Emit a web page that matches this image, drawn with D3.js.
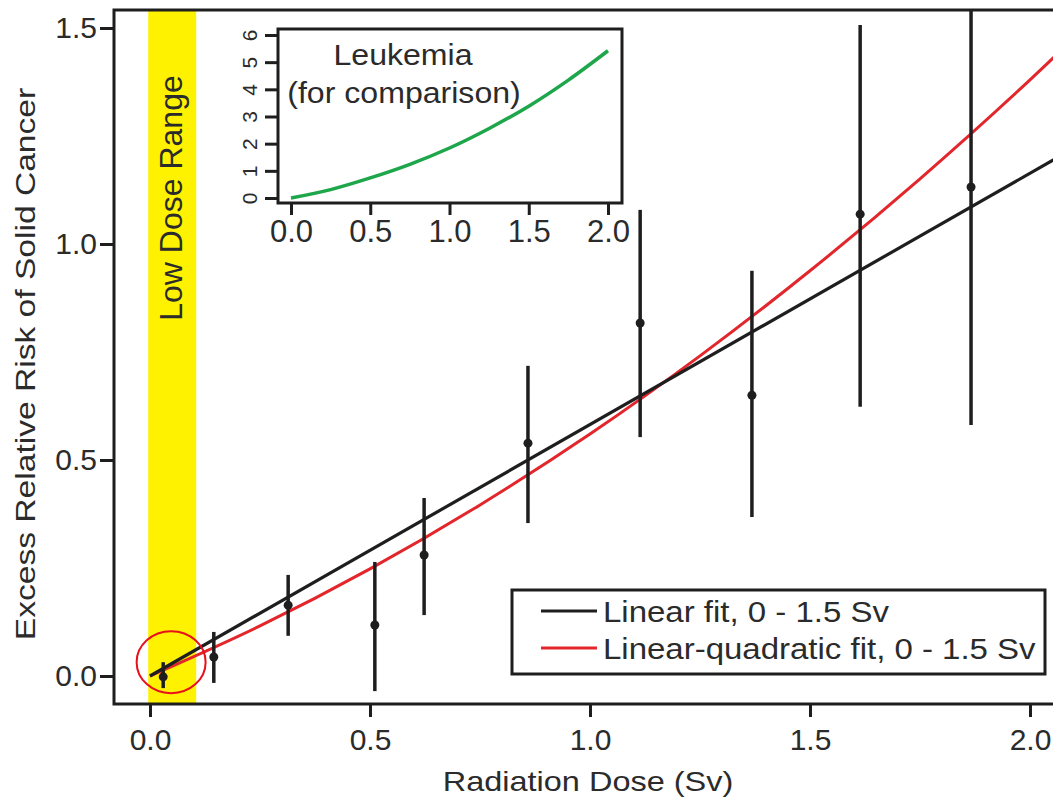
<!DOCTYPE html>
<html>
<head>
<meta charset="utf-8">
<script src="https://cdn.jsdelivr.net/npm/d3@7"></script>
<style>
  body { margin: 0; background: #fff; }
  text { font-family: "Liberation Sans", Arial, sans-serif; fill: #2b2b2b; }
</style>
</head>
<body>
<div id="chart"></div>
<script>
// main chart data: dose bins with excess relative risk and error bars
var doseSv = [0.03, 0.145, 0.314, 0.511, 0.623, 0.859, 1.114, 1.368, 1.614, 1.866];
var errValue = [-0.002, 0.044, 0.164, 0.118, 0.280, 0.539, 0.817, 0.650, 1.069, 1.132];
var errLow = [-0.028, -0.016, 0.093, -0.035, 0.141, 0.354, 0.553, 0.368, 0.623, 0.581];
var errHigh = [0.032, 0.102, 0.234, 0.264, 0.412, 0.718, 1.079, 0.938, 1.507, 1.60];

// fitted curves
var linearFitX = [0, 2.1];
var linearFitY = [0, 1.222];
var lqFitX = [0, 0.25, 0.5, 0.75, 1.0, 1.25, 1.5, 1.75, 2.0, 2.1];
var lqFitY = [0, 0.116, 0.248, 0.396, 0.56, 0.741, 0.938, 1.151, 1.38, 1.476];

// inset: leukemia curve
var leukX = [0, 0.25, 0.5, 0.75, 1.0, 1.25, 1.5, 1.75, 2.0];
var leukY = [0, 0.31, 0.74, 1.24, 1.84, 2.56, 3.38, 4.34, 5.42];

var lowDoseRange = [-0.004, 0.105];
var xTicks = [0, 0.5, 1.0, 1.5, 2.0];
var yTicks = [0, 0.5, 1.0, 1.5];
var insetXTicks = [0, 0.5, 1.0, 1.5, 2.0];
var insetYTicks = [0, 1, 2, 3, 4, 5, 6];
var legendLabels = ["Linear fit, 0 - 1.5 Sv", "Linear-quadratic fit, 0 - 1.5 Sv"];
var highlight = [0.048, 0.032];

var W = 1053, H = 799;
var frame = {left: 114, top: 10, right: 1062, bottom: 704};
var ink = "#1e1e1e";

var x = d3.scaleLinear().domain([0, 2]).range([150, 1030]);
var y = d3.scaleLinear().domain([0, 1.5]).range([676, 28]);

var svg = d3.select("#chart").append("svg")
    .attr("width", W)
    .attr("height", H);

svg.append("clipPath").attr("id", "plotclip")
  .append("rect")
    .attr("x", frame.left).attr("y", frame.top)
    .attr("width", frame.right - frame.left)
    .attr("height", frame.bottom - frame.top);

var plot = svg.append("g").attr("clip-path", "url(#plotclip)");

// yellow low dose band
plot.append("rect")
    .attr("x", x(lowDoseRange[0]))
    .attr("y", frame.top)
    .attr("width", x(lowDoseRange[1]) - x(lowDoseRange[0]))
    .attr("height", frame.bottom - frame.top)
    .attr("fill", "#fff200");

svg.append("text")
    .attr("transform", "translate(182," + 198 + ") rotate(-90)")
    .attr("text-anchor", "middle")
    .style("font-size", "32px")
    .text("Low Dose Range");

// fit lines
var line = d3.line()
    .x(function (d) { return x(d[0]); })
    .y(function (d) { return y(d[1]); });

plot.append("path")
    .datum(d3.zip(lqFitX, lqFitY))
    .attr("d", line.curve(d3.curveMonotoneX))
    .attr("fill", "none")
    .attr("stroke", "#e3262b")
    .attr("stroke-width", 3);

plot.append("path")
    .datum(d3.zip(linearFitX, linearFitY))
    .attr("d", line.curve(d3.curveLinear))
    .attr("fill", "none")
    .attr("stroke", ink)
    .attr("stroke-width", 3.2);

// error bars and points
var pts = doseSv.map(function (d, i) {
    return {x: d, v: errValue[i], lo: errLow[i], hi: errHigh[i]};
});

plot.selectAll(".bar")
    .data(pts)
    .enter().append("line")
    .attr("class", "bar")
    .attr("x1", function (d) { return x(d.x); })
    .attr("x2", function (d) { return x(d.x); })
    .attr("y1", function (d) { return y(d.lo); })
    .attr("y2", function (d) { return y(d.hi); })
    .attr("stroke", ink)
    .attr("stroke-width", 3.5);

plot.selectAll(".dot")
    .data(pts)
    .enter().append("circle")
    .attr("class", "dot")
    .attr("cx", function (d) { return x(d.x); })
    .attr("cy", function (d) { return y(d.v); })
    .attr("r", 4.5)
    .attr("fill", ink);

// red highlight ring
svg.append("ellipse")
    .attr("cx", x(highlight[0]))
    .attr("cy", y(highlight[1]))
    .attr("rx", 34.5)
    .attr("ry", 31)
    .attr("fill", "none")
    .attr("stroke", "#e8101a")
    .attr("stroke-width", 2);

// frame
svg.append("rect")
    .attr("x", frame.left).attr("y", frame.top)
    .attr("width", frame.right - frame.left)
    .attr("height", frame.bottom - frame.top)
    .attr("fill", "none")
    .attr("stroke", ink)
    .attr("stroke-width", 3);

// axes
var gx = svg.append("g")
    .attr("transform", "translate(0," + frame.bottom + ")")
    .call(d3.axisBottom(x).tickValues(xTicks).tickSize(13).tickPadding(12)
        .tickFormat(d3.format(".1f")));
var gy = svg.append("g")
    .attr("transform", "translate(" + frame.left + ",0)")
    .call(d3.axisLeft(y).tickValues(yTicks).tickSize(14).tickPadding(3)
        .tickFormat(d3.format(".1f")));
[gx, gy].forEach(function (g) {
    g.select(".domain").remove();
    g.selectAll("line").attr("stroke", ink).attr("stroke-width", 3);
    g.selectAll("text").style("font-size", "30px").attr("fill", "#2b2b2b");
});

svg.append("text")
    .attr("transform", "translate(588,791) scale(1.16,1)")
    .attr("text-anchor", "middle")
    .style("font-size", "28px")
    .text("Radiation Dose (Sv)");

svg.append("text")
    .attr("transform", "translate(35,364) rotate(-90) scale(1.2,1)")
    .attr("text-anchor", "middle")
    .style("font-size", "28px")
    .text("Excess Relative Risk of Solid Cancer");

// legend
var lg = svg.append("g");
lg.append("rect")
    .attr("x", 512).attr("y", 590)
    .attr("width", 533).attr("height", 84)
    .attr("fill", "#fff")
    .attr("stroke", ink)
    .attr("stroke-width", 3);
var legendColors = [ink, "#e3262b"];
legendLabels.forEach(function (t, i) {
    var yy = 611 + i * 37;
    lg.append("line")
        .attr("x1", 541).attr("x2", 597)
        .attr("y1", yy).attr("y2", yy)
        .attr("stroke", legendColors[i])
        .attr("stroke-width", 3);
    lg.append("text")
        .attr("transform", "translate(603," + (yy + 11) + ") scale(1.1,1)")
        .style("font-size", "30px")
        .text(t);
});

// inset
var inset = {left: 278, top: 29, right: 622, bottom: 203};
var ix = d3.scaleLinear().domain([0, 2]).range([291, 608]);
var iy = d3.scaleLinear().domain([0, 6]).range([198, 35]);

svg.append("rect")
    .attr("x", inset.left).attr("y", inset.top)
    .attr("width", inset.right - inset.left)
    .attr("height", inset.bottom - inset.top)
    .attr("fill", "#fff")
    .attr("stroke", ink)
    .attr("stroke-width", 3);

svg.append("path")
    .datum(d3.zip(leukX, leukY))
    .attr("d", d3.line()
        .x(function (d) { return ix(d[0]); })
        .y(function (d) { return iy(d[1]); })
        .curve(d3.curveMonotoneX))
    .attr("fill", "none")
    .attr("stroke", "#1ea64b")
    .attr("stroke-width", 3.5);

svg.append("text")
    .attr("transform", "translate(403,65) scale(1.07,1)")
    .attr("text-anchor", "middle")
    .style("font-size", "30px")
    .text("Leukemia");
svg.append("text")
    .attr("transform", "translate(404,103) scale(1.07,1)")
    .attr("text-anchor", "middle")
    .style("font-size", "30px")
    .text("(for comparison)");

var gix = svg.append("g")
    .attr("transform", "translate(0," + inset.bottom + ")")
    .call(d3.axisBottom(ix).tickValues(insetXTicks).tickSize(12).tickPadding(5)
        .tickFormat(d3.format(".1f")));
gix.selectAll("text").style("font-size", "31px");

var giy = svg.append("g")
    .attr("transform", "translate(" + inset.left + ",0)")
    .call(d3.axisLeft(iy).tickValues(insetYTicks).tickSize(13)
        .tickFormat(d3.format("d")));
giy.selectAll("text")
    .attr("x", null).attr("dy", null)
    .attr("text-anchor", "middle")
    .attr("transform", "translate(-21,0) rotate(-90)")
    .style("font-size", "21px");

[gix, giy].forEach(function (g) {
    g.select(".domain").remove();
    g.selectAll("line").attr("stroke", ink).attr("stroke-width", 3);
    g.selectAll("text").attr("fill", "#2b2b2b");
});
</script>
</body>
</html>
